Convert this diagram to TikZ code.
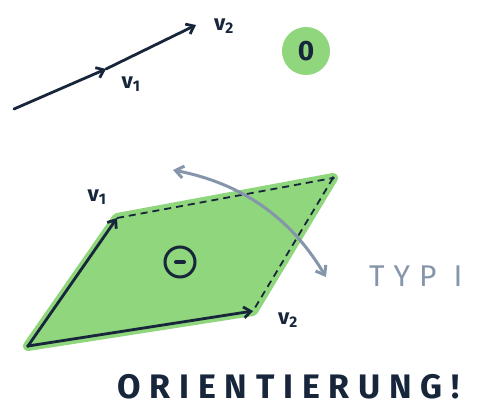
\documentclass[tikz,border=0pt]{standalone}
\usepackage{fontspec}
\setmainfont{Fira Sans}
\usetikzlibrary{arrows.meta}
\definecolor{ink}{RGB}{23,38,59}
\definecolor{leaf}{RGB}{143,214,124}
\definecolor{slate}{RGB}{133,150,170}
\tikzset{
  vec/.style={draw=ink, line width=2.8pt, line cap=round, -{Straight Barb[length=7pt,width=11pt,line width=2.8pt]}},
  dash edge/.style={draw=ink, line width=1.8pt, dash pattern=on 7pt off 5pt},
  lbl/.style={text=ink, font=\bfseries\fontsize{22}{22}\selectfont, inner sep=0pt},
}
\begin{document}
\begin{tikzpicture}[x=1pt,y=-1pt]
\useasboundingbox (0,0) rectangle (490,407);
% top vectors
\coordinate (a0) at (14,109);
\coordinate (a1) at (106,69);
\coordinate (a2) at (196,25);
\draw[vec] (a0) -- (a1);
\draw[vec] (a1) -- (a2);
\node[lbl] (lv2) at (224,26) {v\textsubscript{2}};
\node[lbl] (lv1) at (131,84) {v\textsubscript{1}};
% green zero
\node[circle, fill=leaf, minimum size=48pt, inner sep=0pt, text=ink, font=\bfseries\fontsize{28}{28}\selectfont] (zero) at (306,51) {0};
% parallelogram
\coordinate (p0) at (28,346);
\coordinate (p1) at (117,218);
\coordinate (p2) at (253,311);
\coordinate (p3) at (333,178);
\fill[leaf, draw=leaf, line width=10pt, line join=round] (p0) -- (p1) -- (p3) -- (p2) -- cycle;
\draw[dash edge] (p1) -- (p3);
\draw[dash edge] (p3) -- (p2);
\draw[vec] (p0) -- (p1);
\draw[vec] (p0) -- (p2);
\fill[ink] (p0) circle (1.8pt);
\fill[ink] (p3) circle (1.8pt);
\node[lbl] (pv1) at (97,197) {v\textsubscript{1}};
\node[lbl] (pv2) at (288,320) {v\textsubscript{2}};
\node[circle, draw=ink, line width=3pt, minimum size=30pt, inner sep=0pt] (minus) at (180,262) {};
\draw[ink, line width=4pt, line cap=round] ([xshift=-4pt]minus.center) -- ([xshift=4pt]minus.center);
% orientation arrow
\coordinate (g0) at (173,170);
\coordinate (g1) at (326,277);
\draw[slate, line width=3pt, line cap=round, {Straight Barb[length=8pt,width=12pt,line width=3pt]}-{Straight Barb[length=8pt,width=12pt,line width=3pt]}] (g0) .. controls (250,185) and (295,225) .. (g1);
\node[text=slate, font=\fontsize{30}{30}\selectfont\addfontfeature{LetterSpace=30}, inner sep=0pt, anchor=west] (typ) at (369,276) {TYP I};
% title
\node[text=ink, font=\bfseries\fontsize{34}{34}\selectfont\addfontfeature{LetterSpace=26}, inner sep=0pt, anchor=west] (title) at (117,387) {ORIENTIERUNG!};
\end{tikzpicture}
\end{document}
